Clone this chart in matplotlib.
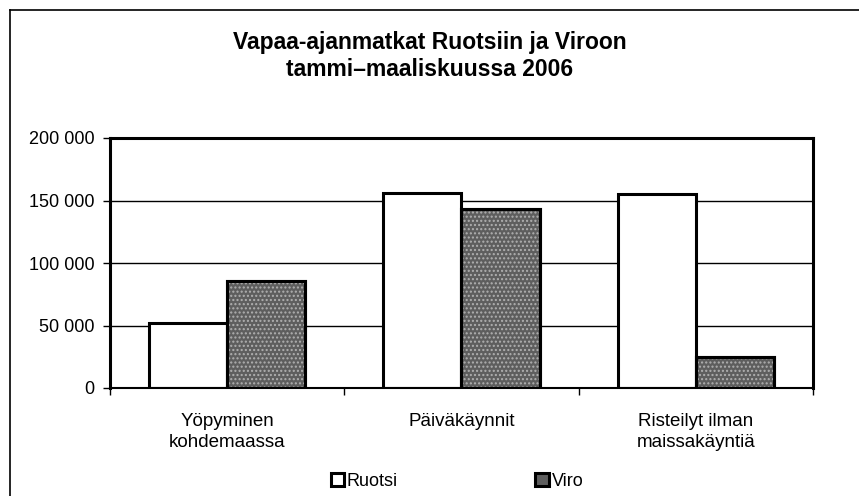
import matplotlib.pyplot as plt
import numpy as np
from matplotlib.lines import Line2D

categories = ['Yöpyminen\nkohdemaassa', 'Päiväkäynnit', 'Risteilyt ilman\nmaissakäyntiä']
ruotsi = [52000, 156000, 155000]
viro = [86000, 143000, 25000]
series_names = ['Ruotsi', 'Viro']
yticks = [0, 50000, 100000, 150000, 200000]
ytick_labels = ['0', '50 000', '100 000', '150 000', '200 000']

plt.rcParams['font.family'] = ['Liberation Sans', 'DejaVu Sans']

fig = plt.figure(figsize=(8.59, 4.96), dpi=100)
ax = fig.add_axes([110 / 859, 1 - 388 / 496, 703 / 859, 250 / 496])

x = np.arange(len(categories))
w = 1 / 3

# gridlines behind bars
for v in yticks[1:-1]:
    ax.axhline(v, color='black', lw=1.0, zorder=1)

b1 = ax.bar(x - w / 2, ruotsi, w, color='white', edgecolor='black', lw=2.2, zorder=2,
            label=series_names[0])
b2 = ax.bar(x + w / 2, viro, w, color='#5e5e5e', edgecolor='black', lw=2.2, zorder=2,
            label=series_names[1])
# speckle texture on Viro bars
ax.bar(x + w / 2, viro, w, color='none', edgecolor='#b0b0b0', hatch='....', lw=0, zorder=3)
ax.bar(x + w / 2, viro, w, color='none', edgecolor='black', lw=2.2, zorder=4)

ax.set_xlim(-0.5, 2.5)
ax.set_ylim(0, 200000)
ax.set_yticks(yticks)
ax.set_yticklabels(ytick_labels, fontsize=13)
ax.set_xticks([-0.5, 0.5, 1.5, 2.5])
ax.set_xticklabels([])
ax.set_xticks(x, minor=True)
ax.set_xticklabels(categories, minor=True, fontsize=13.5, linespacing=1.3)
ax.tick_params(axis='x', which='minor', length=0, pad=18)
ax.tick_params(axis='x', which='major', direction='out', length=5, width=1)
ax.tick_params(axis='y', direction='out', length=5, width=1, pad=6)

for s in ['left', 'top', 'right']:
    ax.spines[s].set_linewidth(2.2)
ax.spines['bottom'].set_linewidth(1.5)

fig.text(0.5, 1 - 42 / 496, 'Vapaa-ajanmatkat Ruotsiin ja Viroon', ha='center', va='center',
         fontsize=16.5, fontweight='bold')
fig.text(0.5, 1 - 70 / 496, 'tammi\u2013maaliskuussa 2006', ha='center', va='center',
         fontsize=16.5, fontweight='bold')

leg = fig.legend(handles=[b1, b2], labels=series_names, loc='center',
                 bbox_to_anchor=(457 / 859, 1 - 481 / 496), ncol=2, frameon=False,
                 fontsize=13, handlelength=0.75, handleheight=0.75, handletextpad=0.15,
                 columnspacing=7.6)

# outer chart frame: only left and top edges are inside the picture
fig.add_artist(Line2D([10 / 859, 10 / 859], [0, 1 - 10 / 496], transform=fig.transFigure,
                      color='black', lw=1.2))
fig.add_artist(Line2D([10 / 859, 1], [1 - 10 / 496, 1 - 10 / 496], transform=fig.transFigure,
                      color='black', lw=1.2))

fig.savefig('out.png', dpi=100)
